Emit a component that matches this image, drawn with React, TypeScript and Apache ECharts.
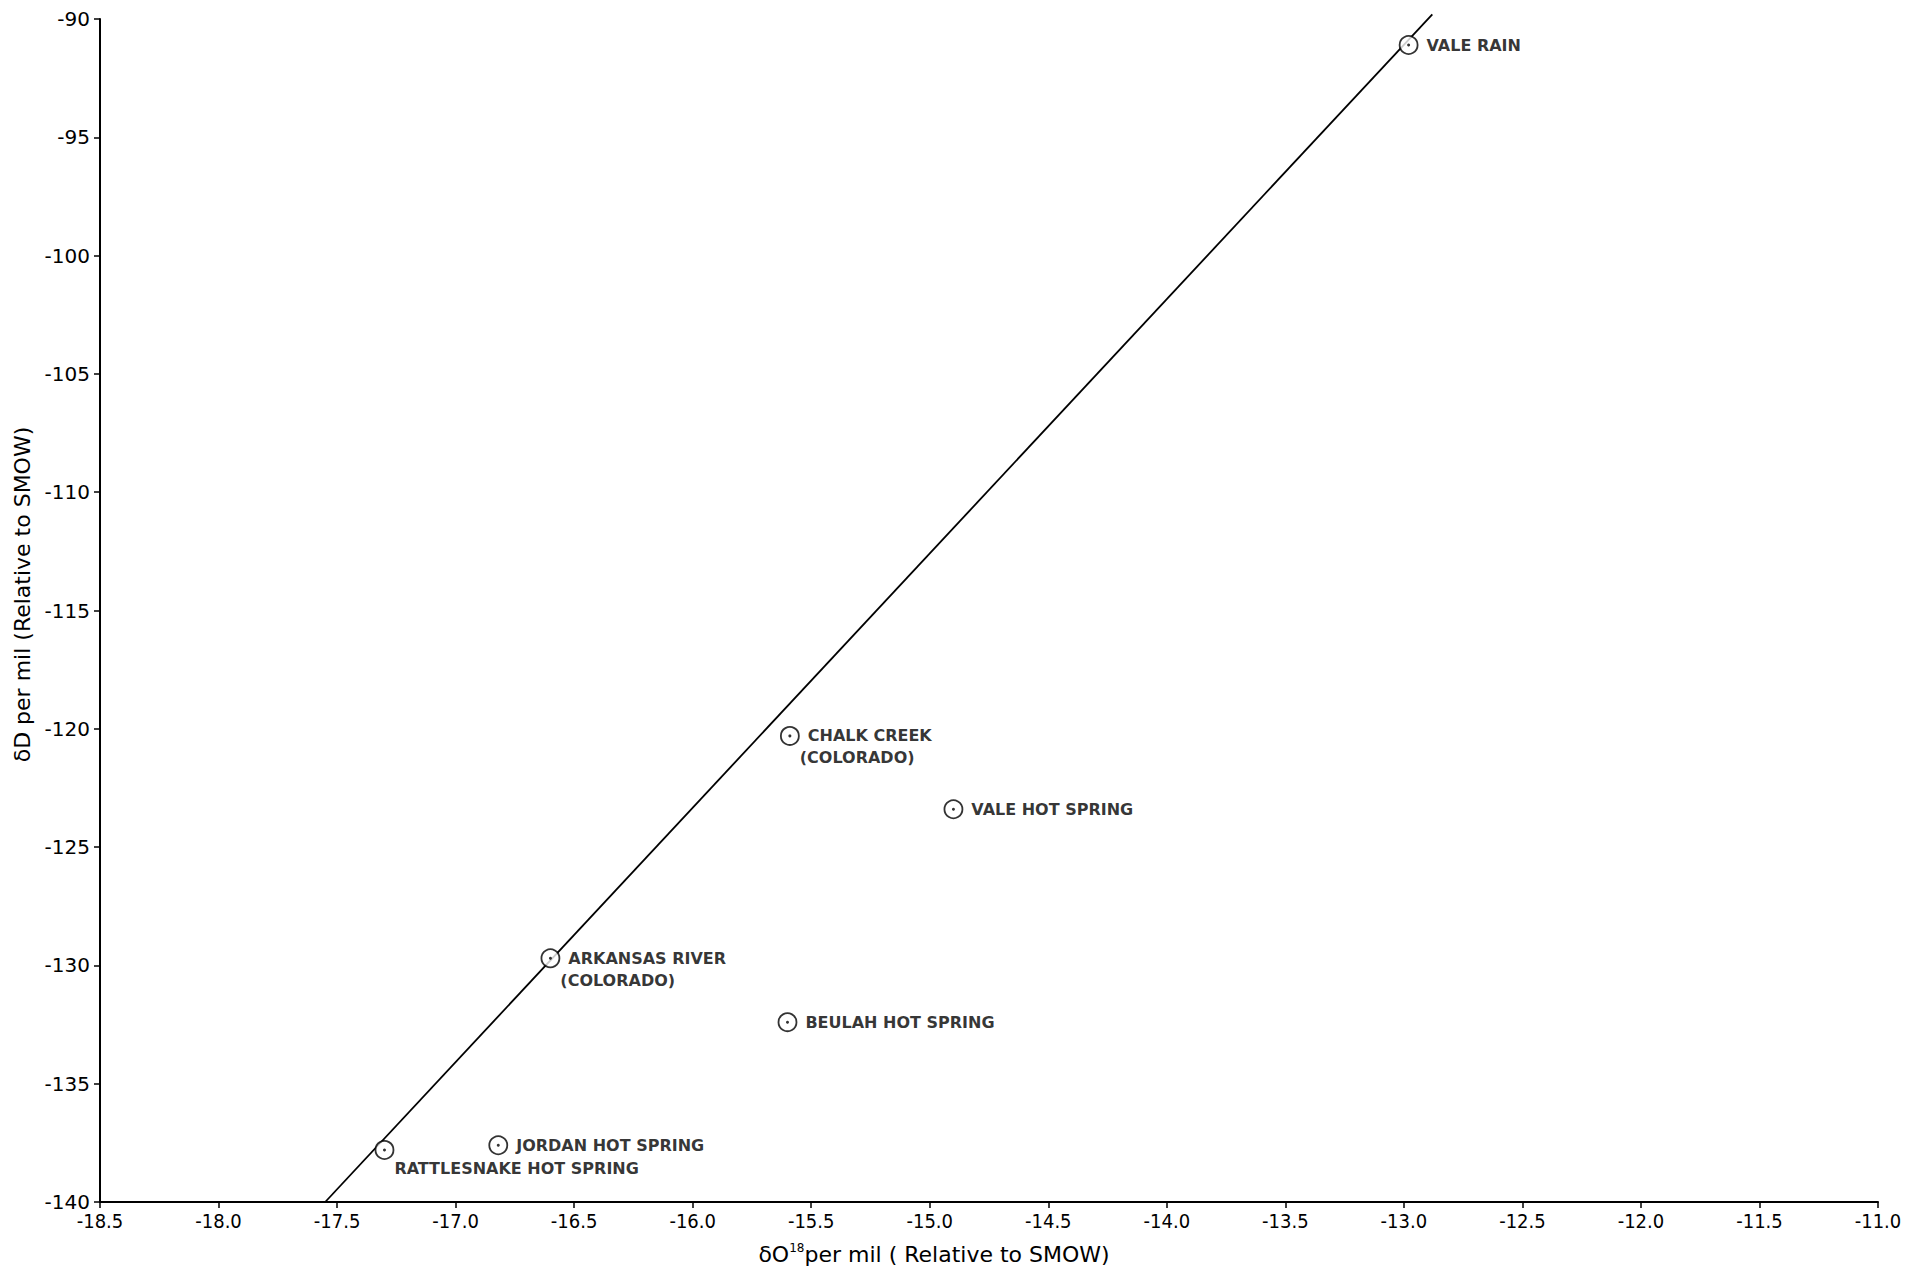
import React, { useEffect, useRef } from "react";
import * as echarts from "echarts";

// ---- data ----
const sampleNames = [
  "VALE RAIN",
  "CHALK CREEK\n(COLORADO)",
  "VALE HOT SPRING",
  "ARKANSAS RIVER\n(COLORADO)",
  "BEULAH HOT SPRING",
  "JORDAN HOT SPRING",
  "RATTLESNAKE HOT SPRING",
];
const d18O = [-12.98, -15.59, -14.9, -16.6, -15.6, -16.82, -17.3];
const dD = [-91.1, -120.3, -123.4, -129.7, -132.4, -137.6, -137.8];

// reference line (end points)
const lineX = [-17.55, -12.88];
const lineY = [-140, -89.8];

const xMin = -18.5;
const xMax = -11.0;
const xStep = 0.5;
const yMin = -140;
const yMax = -90;
const yStep = 5;

const FONT = "DejaVu Sans";

export default function App() {
  const ref = useRef<HTMLDivElement>(null);

  useEffect(() => {
    if (!ref.current) return;
    const chart = echarts.init(ref.current, undefined, { renderer: "svg" });

    const labelTweaks: Record<string, any> = {
      "RATTLESNAKE HOT SPRING": { offset: [-8, 19] },
      "CHALK CREEK\n(COLORADO)": { offset: [0, 11] },
      "ARKANSAS RIVER\n(COLORADO)": { offset: [0, 11] },
    };

    const pointData = sampleNames.map((name, i) => {
      const tw = labelTweaks[name] || {};
      return {
        name,
        value: [d18O[i], dD[i]],
        label: { ...tw },
      };
    });

    const option: any = {
      animation: false,
      backgroundColor: "#ffffff",
      grid: {
        left: 100,
        right: 43,
        top: 19,
        bottom: 71,
        containLabel: false,
        outerBoundsMode: "none",
      },
      xAxis: {
        type: "value",
        min: xMin,
        max: xMax,
        interval: xStep,
        name: "δO{sup|18}per mil ( Relative to SMOW)",
        nameLocation: "middle",
        nameGap: 40,
        nameTextStyle: {
          fontFamily: FONT,
          fontSize: 22,
          color: "#000",
          padding: [0, 110, 0, 0],
          rich: {
            sup: {
              fontFamily: FONT,
              fontSize: 12,
              color: "#000",
              verticalAlign: "top",
              padding: [0, 0, 12, 0],
            },
          },
        },
        axisLine: { show: true, lineStyle: { color: "#000", width: 2 } },
        axisTick: { show: true, length: 6, lineStyle: { color: "#000", width: 1.5 } },
        axisLabel: {
          margin: 9,
          fontFamily: "DejaVu Sans Condensed",
          fontSize: 20,
          color: "#000",
          formatter: (v: number) => v.toFixed(1),
        },
        splitLine: { show: false },
      },
      yAxis: {
        type: "value",
        min: yMin,
        max: yMax,
        interval: yStep,
        name: "δD per mil (Relative to SMOW)",
        nameLocation: "middle",
        nameGap: 62,
        nameTextStyle: {
          fontFamily: FONT,
          fontSize: 22,
          color: "#000",
          padding: [0, 0, 0, 32],
        },
        axisLine: { show: true, lineStyle: { color: "#000", width: 2 } },
        axisTick: { show: true, length: 6, lineStyle: { color: "#000", width: 1.5 } },
        axisLabel: {
          margin: 10,
          fontFamily: FONT,
          fontSize: 20,
          color: "#000",
          formatter: (v: number) => String(v),
        },
        splitLine: { show: false },
      },
      series: [
        {
          type: "line",
          data: lineX.map((x, i) => [x, lineY[i]]),
          showSymbol: false,
          symbol: "none",
          clip: false,
          lineStyle: { color: "#000", width: 1.8 },
          z: 1,
        },
        {
          type: "scatter",
          data: pointData,
          symbol: "circle",
          symbolSize: 18,
          itemStyle: { color: "#ffffff", borderColor: "#000", borderWidth: 1.8 },
          label: {
            show: true,
            position: "right",
            distance: 8,
            fontFamily: FONT,
            fontWeight: "bold",
            fontSize: 16,
            lineHeight: 22,
            color: "#000",
            align: "left",
            formatter: (p: any) => {
              const lines = String(p.name).split("\n");
              return lines
                .map((l, k) => (k === 0 ? `{a|${l}}` : `{b|${l}}`))
                .join("\n");
            },
            rich: {
              a: { fontFamily: FONT, fontWeight: "bold", fontSize: 16, lineHeight: 22, color: "#000" },
              b: {
                fontFamily: FONT,
                fontWeight: "bold",
                fontSize: 16,
                lineHeight: 22,
                color: "#000",
                padding: [0, 0, 0, -8],
              },
            },
          },
          z: 3,
        },
        {
          type: "scatter",
          data: d18O.map((x, i) => [x, dD[i]]),
          symbol: "circle",
          symbolSize: 3,
          itemStyle: { color: "#000" },
          silent: true,
          z: 4,
        },
      ],
    };

    chart.setOption(option);
    return () => chart.dispose();
  }, []);

  return (
    <div
      ref={ref}
      style={{ position: "fixed", left: 0, top: 0, width: 1921, height: 1273, background: "#fff" }}
    />
  );
}
